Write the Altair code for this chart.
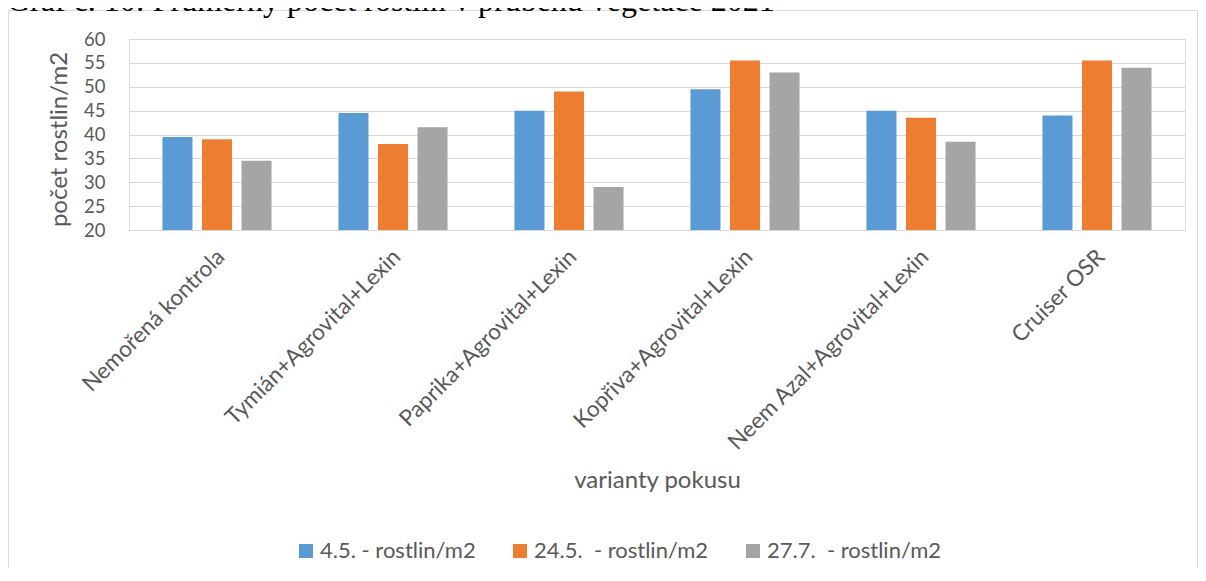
import altair as alt
import pandas as pd

# ---- data ----
categories = [
    "Nemořená kontrola",
    "Tymián+Agrovital+Lexin",
    "Paprika+Agrovital+Lexin",
    "Kopřiva+Agrovital+Lexin",
    "Neem Azal+Agrovital+Lexin",
    "Cruiser OSR",
]
series_names = ["4.5. - rostlin/m2", "24.5.\u00a0 - rostlin/m2", "27.7.\u00a0 - rostlin/m2"]
vals_04_05 = [39.5, 44.5, 45, 49.5, 45, 44]
vals_24_05 = [39, 38, 49, 55.5, 43.5, 55.5]
vals_27_07 = [34.5, 41.5, 29, 53, 38.5, 54]
series_colors = ["#5B9BD5", "#ED7D31", "#A5A5A5"]
y_ticks = [20, 25, 30, 35, 40, 45, 50, 55, 60]
title_text = "Graf č. 10: Průměrný počet rostlin v průběhu vegetace 2021"
x_title = "varianty pokusu"
y_title = "počet rostlin/m2"

rows = []
for name, vals in zip(series_names, [vals_04_05, vals_24_05, vals_27_07]):
    for cat, v in zip(categories, vals):
        rows.append({"varianta": cat, "serie": name, "hodnota": v})
df = pd.DataFrame(rows)

W, H = 1056, 191
PAD_L, PAD_T, PAD_R, PAD_B = 121, 31, 13, 338
TXT = "#595959"
FONT = "Lato"

bars = alt.Chart(df).mark_bar().encode(
    x=alt.X(
        "varianta:N",
        sort=categories,
        scale=alt.Scale(paddingInner=0.38, paddingOuter=0.19),
        axis=alt.Axis(
            title=x_title,
            labelAngle=-45,
            labelAlign="right",
            labelBaseline="middle",
            labelPadding=23,
            labelOffset=4,
            labelFont=FONT,
            labelFontSize=22.5,
            labelColor=TXT,
            labelLimit=0,
            labelOverlap=False,
            ticks=False,
            tickSize=0,
            domain=True,
            domainColor="#D9D9D9",
            domainWidth=1,
            titleFont=FONT,
            titleFontSize=24,
            titleFontWeight="normal",
            titleColor=TXT,
            titleY=257,
            titleBaseline="alphabetic",
        ),
    ),
    xOffset=alt.XOffset(
        "serie:N",
        sort=series_names,
        scale=alt.Scale(paddingInner=0.24, paddingOuter=0),
    ),
    y=alt.Y(
        "hodnota:Q",
        scale=alt.Scale(domain=[20, 60], nice=False, zero=False),
        axis=alt.Axis(
            title=y_title,
            values=y_ticks,
            grid=True,
            gridColor="#D9D9D9",
            gridWidth=1,
            domain=False,
            ticks=False,
            tickSize=0,
            labelPadding=24,
            labelFont=FONT,
            labelFontSize=18.5,
            labelColor=TXT,
            titleFont=FONT,
            titleFontSize=24,
            titleFontWeight="normal",
            titleColor=TXT,
            titlePadding=12,
            titleY=100,
        ),
    ),
    y2=alt.datum(20),
    color=alt.Color(
        "serie:N",
        sort=series_names,
        scale=alt.Scale(domain=series_names, range=series_colors),
        legend=alt.Legend(
            title=None,
            orient="none",
            legendX=166,
            legendY=501,
            direction="horizontal",
            symbolType="square",
            symbolSize=196,
            symbolStrokeWidth=0,
            labelFont=FONT,
            labelFontSize=22,
            labelColor=TXT,
            labelOffset=3,
            columnPadding=33,
            padding=0,
            labelLimit=0,
        ),
    ),
)

deco = pd.DataFrame({"k": [0]})
border = alt.Chart(deco).mark_rect(
    fill="transparent", stroke="#D9D9D9", strokeWidth=1
).encode(
    x=alt.value(-120.5), x2=alt.value(1068.5), y=alt.value(-28.5), y2=alt.value(560)
)

title = alt.Chart(deco).mark_text(
    align="left", baseline="alphabetic", font="Liberation Serif", fontSize=32, color="#000000"
).encode(x=alt.value(-122), y=alt.value(-28), text=alt.value(title_text))

chart = alt.layer(border, bars, title).properties(
    width=W,
    height=H,
    autosize=alt.AutoSizeParams(type="none"),
    padding={"left": PAD_L, "top": PAD_T, "right": PAD_R, "bottom": PAD_B},
).configure_view(strokeWidth=0).configure(background="white")

chart.save("out.html", embed_options={"renderer": "svg", "actions": False})
